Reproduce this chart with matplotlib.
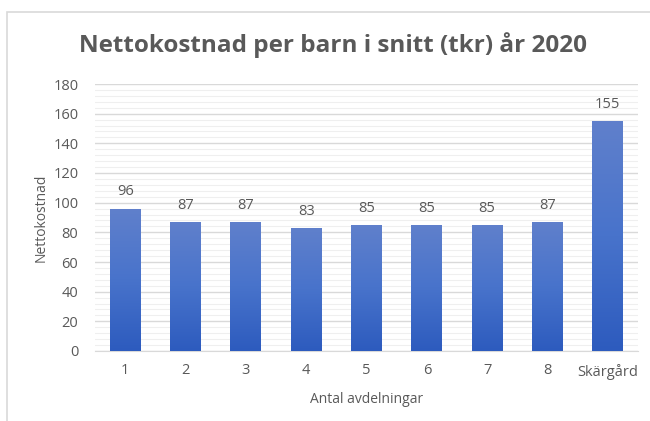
import matplotlib
matplotlib.use("Agg")
from matplotlib import pyplot as plt
from matplotlib.ticker import MultipleLocator
from matplotlib.patches import Rectangle
from matplotlib.colors import LinearSegmentedColormap
import numpy as np

categories = ["1", "2", "3", "4", "5", "6", "7", "8", "Skärgård"]
values = [96, 87, 87, 83, 85, 85, 85, 87, 155]

title = "Nettokostnad per barn i snitt (tkr) år 2020"
xlabel = "Antal avdelningar"
ylabel = "Nettokostnad"

text_color = "#595959"
plt.rcParams['font.family'] = ['Open Sans', 'DejaVu Sans']

fig = plt.figure(figsize=(6.5, 4.21), dpi=100)
fig.patch.set_facecolor("white")

# light frame round the whole chart
fig.patches.append(Rectangle((7 / 650, -0.2), 1.5, 1.2 - 12 / 421,
                             transform=fig.transFigure, fill=False,
                             edgecolor="#D9D9D9", linewidth=1.2))

ax = fig.add_axes([95 / 650, 1 - 351 / 421, (638 - 95) / 650, (351 - 84) / 421])

x = np.arange(len(categories))
bars = ax.bar(x, values, width=0.51, color="none", zorder=3)

# vertical gradient, lighter at the top of each bar
grad = LinearSegmentedColormap.from_list("bar", ["#2D5BBE", "#4873CB", "#6080CC"])
g = np.linspace(0, 1, 256).reshape(-1, 1)
for b in bars:
    x0, w, h = b.get_x(), b.get_width(), b.get_height()
    im = ax.imshow(g, cmap=grad, aspect="auto", origin="lower",
                   extent=(x0, x0 + w, 0, h), zorder=3)
    im.set_clip_path(b)

for xi, v in zip(x, values):
    ax.annotate(str(v), (xi, v), xytext=(0, 12), textcoords="offset points",
                ha="center", va="center", fontsize=10.5, color=text_color)

ax.set_xlim(-0.5, len(categories) - 0.5)
ax.set_ylim(0, 180)
ax.yaxis.set_major_locator(MultipleLocator(20))
ax.yaxis.set_minor_locator(MultipleLocator(4))
ax.grid(which="major", axis="y", color="#D9D9D9", linewidth=1.0, zorder=0)
ax.grid(which="minor", axis="y", color="#EFEFEF", linewidth=0.8, zorder=0)
ax.set_axisbelow(True)

ax.set_xticks(x)
ax.set_xticklabels(categories)
ax.tick_params(axis="both", which="both", length=0, labelsize=10.5, colors=text_color)
ax.tick_params(axis="y", pad=12)
ax.tick_params(axis="x", pad=9)

for s in ["top", "right", "left"]:
    ax.spines[s].set_visible(False)
ax.spines["bottom"].set_color("#D9D9D9")

ax.set_xlabel(xlabel, fontsize=10, color=text_color, labelpad=9)
ax.set_ylabel(ylabel, fontsize=10, color=text_color, labelpad=3)

fig.text(0.512, 1 - 45 / 421, title, ha="center", va="center",
         fontsize=17.5, fontweight="bold", color=text_color)

fig.savefig("out.png", dpi=100)
